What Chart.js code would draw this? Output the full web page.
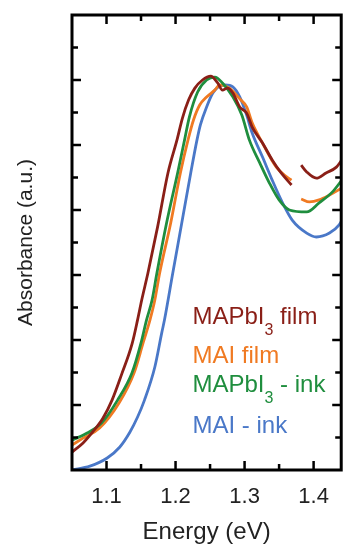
<!DOCTYPE html>
<html lang="en">
  <head>
    <meta charset="UTF-8" />
    <meta name="viewport" content="width=device-width, initial-scale=1.0" />
    <title>Absorbance</title>
    <script src="https://cdn.jsdelivr.net/npm/chart.js@4.4.0/dist/chart.umd.min.js"></script>
    <style>
      body { margin: 0; background: #fff; }
    </style>
  </head>
  <body>
    <canvas id="Graph" width="343" height="550"></canvas>

    <script>
      // values: energy (eV) and absorbance (a.u.)
      const filmEnergy = [1.050, 1.066, 1.080, 1.095, 1.108, 1.122, 1.137, 1.145, 1.151, 1.160, 1.174, 1.189, 1.202, 1.210, 1.219, 1.228, 1.239, 1.251, 1.261, 1.268, 1.275, 1.283, 1.293, 1.303, 1.311, 1.326, 1.340, 1.353, 1.368, 1.375, 1.382, 1.390, 1.404, 1.418, 1.433, 1.441];
      const filmAbs    = [0.055, 0.083, 0.117, 0.160, 0.215, 0.295, 0.388, 0.462, 0.523, 0.606, 0.748, 0.914, 1.015, 1.083, 1.139, 1.175, 1.200, 1.212, 1.191, 1.169, 1.175, 1.160, 1.117, 1.098, 1.055, 1.006, 0.954, 0.914, 0.877, null, 0.938, 0.917, 0.898, 0.914, 0.932, 0.954];

      const maiFilmEnergy = [1.050, 1.066, 1.090, 1.119, 1.140, 1.153, 1.163, 1.170, 1.177, 1.193, 1.207, 1.218, 1.226, 1.235, 1.245, 1.257, 1.264, 1.278, 1.293, 1.303, 1.311, 1.326, 1.346, 1.361, 1.368, 1.375, 1.382, 1.394, 1.408, 1.423, 1.441];
      const maiFilmAbs    = [0.077, 0.098, 0.129, 0.209, 0.299, 0.391, 0.462, 0.523, 0.606, 0.760, 0.914, 1.015, 1.077, 1.123, 1.148, 1.169, 1.185, 1.175, 1.142, 1.117, 1.068, 1.006, 0.932, 0.902, 0.892, null, 0.834, 0.825, 0.831, 0.846, 0.868];

      const inkEnergy = [1.050, 1.072, 1.093, 1.116, 1.137, 1.150, 1.158, 1.166, 1.173, 1.187, 1.203, 1.213, 1.220, 1.232, 1.245, 1.257, 1.268, 1.283, 1.296, 1.307, 1.322, 1.336, 1.350, 1.365, 1.390, 1.408, 1.427, 1.441];
      const inkAbs    = [0.092, 0.114, 0.145, 0.215, 0.299, 0.391, 0.462, 0.523, 0.606, 0.760, 0.914, 1.015, 1.086, 1.163, 1.200, 1.209, 1.191, 1.148, 1.092, 1.015, 0.945, 0.883, 0.831, 0.800, 0.794, 0.822, 0.855, 0.892];

      const maiInkEnergy = [1.050, 1.076, 1.101, 1.119, 1.134, 1.145, 1.155, 1.170, 1.180, 1.184, 1.196, 1.209, 1.222, 1.231, 1.236, 1.245, 1.254, 1.262, 1.272, 1.283, 1.293, 1.303, 1.311, 1.326, 1.340, 1.355, 1.369, 1.390, 1.404, 1.423, 1.437, 1.441];
      const maiInkAbs    = [0.000, 0.012, 0.037, 0.070, 0.117, 0.163, 0.215, 0.317, 0.422, 0.462, 0.606, 0.760, 0.914, 1.015, 1.062, 1.117, 1.160, 1.179, 1.185, 1.179, 1.148, 1.092, 1.037, 0.963, 0.892, 0.822, 0.769, 0.729, 0.717, 0.729, 0.754, 0.769];

      const xTicks = [1.1, 1.2, 1.3, 1.4];
      const xMinorTicks = [1.15, 1.25, 1.35];
      const yTicks = [0.2, 0.4, 0.6, 0.8, 1.0, 1.2];
      const yMinorTicks = [0.1, 0.3, 0.5, 0.7, 0.9, 1.1, 1.3];

      const colors = { film: '#8a1f17', maiFilm: '#f07a22', ink: '#1f8e3e', maiInk: '#4a78c8' };
      const fontFamily = '"Liberation Sans", Arial, sans-serif';

      function pairs(xs, ys) {
        return xs.map((x, i) => ({ x: x, y: ys[i] }));
      }

      // inward ticks on all four sides + the box
      const frame = {
        id: 'frame',
        afterDatasetsDraw(chart) {
          const { ctx, chartArea: a, scales: { x, y } } = chart;
          ctx.save();
          ctx.strokeStyle = '#000';
          ctx.lineWidth = 2.5;
          ctx.beginPath();
          const xTick = (v, len) => {
            const p = x.getPixelForValue(v);
            ctx.moveTo(p, a.bottom); ctx.lineTo(p, a.bottom - len);
            ctx.moveTo(p, a.top); ctx.lineTo(p, a.top + len);
          };
          const yTick = (v, len) => {
            const p = y.getPixelForValue(v);
            ctx.moveTo(a.left, p); ctx.lineTo(a.left + len, p);
            ctx.moveTo(a.right, p); ctx.lineTo(a.right - len, p);
          };
          xTicks.forEach(v => xTick(v, 9));
          xMinorTicks.forEach(v => xTick(v, 6));
          yTicks.forEach(v => yTick(v, 9));
          yMinorTicks.forEach(v => yTick(v, 6));
          ctx.stroke();
          ctx.lineWidth = 3;
          ctx.strokeRect(a.left, a.top, a.right - a.left, a.bottom - a.top);
          ctx.restore();
        }
      };

      // text legend inside the plot, with subscripts
      const legendItems = [
        { parts: ['MAPbI', '3', ' film'], color: colors.film, y: 0.449 },
        { parts: ['MAI film'], color: colors.maiFilm, y: 0.329 },
        { parts: ['MAPbI', '3', ' - ink'], color: colors.ink, y: 0.240 },
        { parts: ['MAI - ink'], color: colors.maiInk, y: 0.114 }
      ];
      const textLegend = {
        id: 'textLegend',
        afterDatasetsDraw(chart) {
          const { ctx, scales: { x, y } } = chart;
          ctx.save();
          ctx.textBaseline = 'alphabetic';
          legendItems.forEach(item => {
            let px = x.getPixelForValue(1.2245);
            const py = y.getPixelForValue(item.y);
            ctx.fillStyle = item.color;
            item.parts.forEach((t, i) => {
              const sub = i === 1;
              ctx.font = (sub ? '16px ' : '24px ') + fontFamily;
              ctx.fillText(t, px, sub ? py + 11 : py);
              px += ctx.measureText(t).width;
            });
          });
          ctx.restore();
        }
      };

      const element = document.getElementById('Graph').getContext('2d');
      const Graph = new Chart(element, {
        type: 'line',
        data: {
          datasets: [
            { label: 'MAPbI3 film', data: pairs(filmEnergy, filmAbs), borderColor: colors.film },
            { label: 'MAPbI3 - ink', data: pairs(inkEnergy, inkAbs), borderColor: colors.ink },
            { label: 'MAI film', data: pairs(maiFilmEnergy, maiFilmAbs), borderColor: colors.maiFilm },
            { label: 'MAI - ink', data: pairs(maiInkEnergy, maiInkAbs), borderColor: colors.maiInk }
          ]
        },
        options: {
          responsive: false,
          animation: false,
          spanGaps: false,
          layout: { padding: { top: 15, right: 1, left: 0, bottom: 0 } },
          elements: {
            point: { radius: 0 },
            line: { borderWidth: 2.8, cubicInterpolationMode: 'monotone', fill: false }
          },
          plugins: {
            legend: { display: false },
            tooltip: { enabled: false }
          },
          scales: {
            x: {
              type: 'linear',
              min: 1.05,
              max: 1.44,
              grid: { display: false, drawTicks: false },
              border: { display: false },
              afterBuildTicks: s => { s.ticks = xTicks.map(v => ({ value: v })); },
              afterFit: s => { s.height = 80; },
              ticks: {
                padding: 14,
                color: '#222',
                font: { family: fontFamily, size: 22 },
                callback: v => v.toFixed(1)
              },
              title: {
                display: true,
                text: 'Energy (eV)',
                color: '#222',
                font: { family: fontFamily, size: 24 },
                padding: { top: 0, bottom: 3 }
              }
            },
            y: {
              min: 0,
              max: 1.4,
              grid: { display: false, drawTicks: false },
              border: { display: false },
              ticks: { display: false },
              afterFit: s => { s.width = 72; },
              title: {
                display: true,
                text: 'Absorbance (a.u.)',
                color: '#222',
                font: { family: fontFamily, size: 21 },
                padding: { top: 14, bottom: 0 }
              }
            }
          }
        },
        plugins: [frame, textLegend]
      });
    </script>
  </body>
</html>
